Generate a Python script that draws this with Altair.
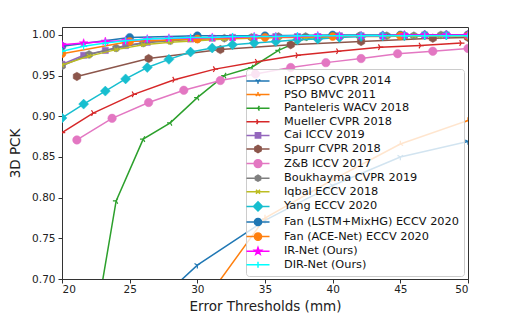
import math
import altair as alt
import pandas as pd

# ---------------- data ----------------
SERIES = ["ICPPSO CVPR 2014", "PSO BMVC 2011", "Panteleris WACV 2018", "Mueller CVPR 2018",
          "Cai ICCV 2019", "Spurr CVPR 2018", "Z&B ICCV 2017", "Boukhayma CVPR 2019",
          "Iqbal ECCV 2018", "Yang ECCV 2020", "Fan (LSTM+MixHG) ECCV 2020",
          "Fan (ACE-Net) ECCV 2020", "IR-Net (Ours)", "DIR-Net (Ours)"]

X_FINE = [20.0, 21.6, 23.2, 24.7, 26.3, 27.9, 29.5, 31.1, 32.6, 34.2,
          35.8, 37.4, 38.9, 40.5, 42.1, 43.7, 45.3, 46.8, 48.4, 50.0]
X_TWO = [20, 22, 24, 26, 28, 30, 32, 34, 36, 38, 40, 42, 44, 46, 48, 50]
X_FIVE = [20, 25, 30, 35, 40, 45, 50]
X_ZB = [21.1, 23.7, 26.4, 29.0, 31.7, 34.3, 36.9, 39.5, 42.1, 44.8, 47.4, 50.0]

icppso_x = [25, 30, 35, 40, 45, 50]
icppso_y = [0.640, 0.717, 0.772, 0.815, 0.850, 0.869]
pso_x = [30, 35, 40, 45, 50]
pso_y = [0.660, 0.775, 0.822, 0.866, 0.895]
panteleris_x = [22, 24, 26, 28, 30, 32, 34, 36, 38, 40, 42, 44, 46, 48, 50]
panteleris_y = [0.600, 0.796, 0.872, 0.892, 0.923, 0.950, 0.960, 0.981, 0.996, 0.998,
                0.999, 0.999, 0.999, 1.000, 1.000]
mueller_x = [20.0, 22.3, 25.3, 28.3, 31.3, 34.4, 37.4, 40.4, 43.5, 46.5, 49.5]
mueller_y = [0.880, 0.904, 0.927, 0.945, 0.958, 0.967, 0.975, 0.980, 0.985, 0.987, 0.990]
cai_y = [0.964, 0.975, 0.981, 0.987, 0.991, 0.994, 0.995, 0.996, 0.997, 0.997,
         0.998, 0.998, 0.998, 0.999, 0.999, 0.999, 0.999, 1.000, 1.000, 1.000]
spurr_x = [21.1, 26.4, 31.7, 36.9, 42.1, 47.4, 50.0]
spurr_y = [0.949, 0.971, 0.982, 0.988, 0.992, 0.996, 0.997]
zb_y = [0.871, 0.8975, 0.917, 0.932, 0.944, 0.952, 0.960, 0.966, 0.971, 0.977, 0.980, 0.9835]
boukhayma_y = [0.962, 0.976, 0.984, 0.990, 0.993, 0.995, 0.996, 0.997, 0.998, 0.998,
               0.999, 0.999, 0.999, 0.999, 1.000, 1.000]
iqbal_y = [0.963, 0.974, 0.982, 0.988, 0.991, 0.993, 0.995, 0.996, 0.997, 0.997,
           0.998, 0.998, 0.998, 0.999, 0.999, 0.999]
yang_y = [0.898, 0.915, 0.931, 0.946, 0.960, 0.970, 0.979, 0.984, 0.988, 0.990,
          0.992, 0.994, 0.995, 0.997, 0.998, 0.999, 0.999, 1.000, 1.000, 1.000]
fan_lstm_y = [0.986, 0.997, 0.999, 0.999, 1.000, 1.000, 1.000]
fan_ace_y = [0.977, 0.992, 0.995, 0.997, 0.998, 0.999, 0.999]
irnet_y = [0.988, 0.990, 0.992, 0.993, 0.995, 0.996, 0.996, 0.997, 0.997, 0.998,
           0.998, 0.998, 0.999, 0.999, 0.999, 0.999, 1.000, 1.000, 1.000, 1.000]
dirnet_y = [0.980, 0.986, 0.990, 0.993, 0.995, 0.996, 0.997, 0.997, 0.998, 0.998,
            0.998, 0.999, 0.999, 0.999, 0.999, 0.999, 0.999, 0.999, 0.999, 0.999]

X_TICKS = [20, 25, 30, 35, 40, 45, 50]
Y_TICKS = [0.70, 0.75, 0.80, 0.85, 0.90, 0.95, 1.00]

DATA = {
    "ICPPSO CVPR 2014": (icppso_x, icppso_y),
    "PSO BMVC 2011": (pso_x, pso_y),
    "Panteleris WACV 2018": (panteleris_x, panteleris_y),
    "Mueller CVPR 2018": (mueller_x, mueller_y),
    "Cai ICCV 2019": (X_FINE, cai_y),
    "Spurr CVPR 2018": (spurr_x, spurr_y),
    "Z&B ICCV 2017": (X_ZB, zb_y),
    "Boukhayma CVPR 2019": (X_TWO, boukhayma_y),
    "Iqbal ECCV 2018": (X_TWO, iqbal_y),
    "Yang ECCV 2020": (X_FINE, yang_y),
    "Fan (LSTM+MixHG) ECCV 2020": (X_FIVE, fan_lstm_y),
    "Fan (ACE-Net) ECCV 2020": (X_FIVE, fan_ace_y),
    "IR-Net (Ours)": (X_FINE, irnet_y),
    "DIR-Net (Ours)": (X_FINE, dirnet_y),
}

rows = []
for name in SERIES:
    xs, ys = DATA[name]
    for xv, yv in zip(xs, ys):
        rows.append({"series": name, "x": xv, "y": yv})
df = pd.DataFrame(rows)

# ---------------- styles ----------------
COLORS = ["#1f77b4", "#ff7f0e", "#2ca02c", "#d62728", "#9467bd", "#8c564b", "#e377c2",
          "#7f7f7f", "#bcbd22", "#17becf", "#1f77b4", "#ff7f0e", "#ff00ff", "#00ffff"]
MARKERS = ["tri_down", "tri_up", "tri_left", "tri_right", "square", "hexagon", "circle",
           "hexagon", "x", "diamond", "circle", "circle", "star", "plus"]
MSIZE = [42, 42, 42, 42, 60, 72, 72, 64, 30, 100, 64, 64, 80, 49]   # px^2 for plot markers
LSCALE = [0.45, 0.45, 0.45, 0.45, 0.55, 0.6, 0.65, 0.5, 0.45, 0.75, 0.6, 0.6, 0.6, 0.5]  # legend marker radius (units)

def f(v):
    return ("%.3f" % v).rstrip("0").rstrip(".")

def marker_path(kind, r):
    if kind == "circle":
        return "M%s,0A%s,%s 0 1,0 %s,0A%s,%s 0 1,0 %s,0Z" % (f(-r), f(r), f(r), f(r), f(r), f(r), f(-r))
    if kind == "square":
        a = r * 0.8
        return "M%s,%sL%s,%sL%s,%sL%s,%sZ" % (f(-a), f(-a), f(a), f(-a), f(a), f(a), f(-a), f(a))
    if kind == "diamond":
        return "M0,%sL%s,0L0,%sL%s,0Z" % (f(-r), f(r), f(r), f(-r))
    if kind == "hexagon":
        p = []
        for k in range(6):
            ang = math.radians(90 + 60 * k)
            p.append((r * math.cos(ang), -r * math.sin(ang)))
        return "M" + "L".join("%s,%s" % (f(a), f(b)) for a, b in p) + "Z"
    if kind == "star":
        p = []
        for k in range(10):
            rr = r if k % 2 == 0 else r * 0.4
            ang = math.radians(90 + 36 * k)
            p.append((rr * math.cos(ang), -rr * math.sin(ang)))
        return "M" + "L".join("%s,%s" % (f(a), f(b)) for a, b in p) + "Z"
    if kind == "x":
        a = r * 0.75
        return "M%s,%sL%s,%sM%s,%sL%s,%s" % (f(-a), f(-a), f(a), f(a), f(-a), f(a), f(a), f(-a))
    if kind == "plus":
        return "M%s,0L%s,0M0,%sL0,%s" % (f(-r), f(r), f(-r), f(r))
    arms = {
        "tri_down": [(0, 1), (-0.866, -0.5), (0.866, -0.5)],
        "tri_up": [(0, -1), (-0.866, 0.5), (0.866, 0.5)],
        "tri_left": [(-1, 0), (0.5, -0.866), (0.5, 0.866)],
        "tri_right": [(1, 0), (-0.5, -0.866), (-0.5, 0.866)],
    }[kind]
    return "".join("M0,0L%s,%s" % (f(a * r), f(b * r)) for a, b in arms)

LINE_HALF = 1.92
legend_paths = ["M%s,0L%s,0" % (f(-LINE_HALF), f(LINE_HALF)) + marker_path(m, s)
                for m, s in zip(MARKERS, LSCALE)]

FONT = "DejaVu Sans"
stroke_scale = alt.Scale(domain=SERIES, range=COLORS)
fill_scale = alt.Scale(domain=SERIES, range=COLORS)

X = alt.X("x:Q", scale=alt.Scale(domain=[20, 50], nice=False, zero=False),
          axis=alt.Axis(values=X_TICKS, format="d", title="Error Thresholds (mm)",
                        grid=False, tickSize=4, labelFontSize=10.5, titleFontSize=13.5,
                        labelPadding=1, titleY=31, titleBaseline="alphabetic"))
Y = alt.Y("y:Q", scale=alt.Scale(domain=[0.70, 1.0098], nice=False, zero=False),
          axis=alt.Axis(values=Y_TICKS, format=".2f", title="3D PCK",
                        grid=False, tickSize=4, labelFontSize=10.5, titleFontSize=13.5,
                        labelPadding=3, titlePadding=9))

leg = alt.Legend(orient="none", legendX=184, legendY=42, title=None,
                 symbolSize=144, symbolStrokeWidth=1.5, symbolOffset=0,
                 labelFontSize=11.3, labelFont=FONT, labelColor="#111111", labelOffset=19,
                 labelLimit=400, fillColor="rgba(255,255,255,0.8)", strokeColor="#cccccc",
                 cornerRadius=3, padding=5, rowPadding=0.6)

legend_layer = alt.Chart(df).transform_filter("false").mark_point(
    filled=True, opacity=1, strokeWidth=1.5).encode(
    x=X, y=Y,
    fill=alt.Fill("series:N", scale=fill_scale, legend=leg),
    stroke=alt.Stroke("series:N", scale=stroke_scale, legend=leg),
    shape=alt.Shape("series:N", scale=alt.Scale(domain=SERIES, range=legend_paths), legend=leg))

layers = [legend_layer]
for i, name in enumerate(SERIES):
    sub = alt.Chart(df).transform_filter(alt.datum.series == name)
    layers.append(sub.mark_line(strokeWidth=1.5, clip=True).encode(
        x=X, y=Y, stroke=alt.Stroke("series:N", scale=stroke_scale)))
    open_shape = MARKERS[i] in ("tri_down", "tri_up", "tri_left", "tri_right", "x", "plus")
    layers.append(sub.mark_point(filled=True, opacity=1, clip=True,
                                 strokeWidth=1.2 if open_shape else 0.5,
                                 shape=marker_path(MARKERS[i], 1.0), size=MSIZE[i]).encode(
        x=X, y=Y,
        fill=alt.Fill("series:N", scale=fill_scale),
        stroke=alt.Stroke("series:N", scale=stroke_scale)))

chart = alt.layer(*layers).properties(
    width=406, height=252,
    autosize=alt.AutoSizeParams(type="none"),
    padding={"left": 54, "top": 19, "right": 34, "bottom": 35},
    background="white",
).configure_view(stroke="#333333", strokeWidth=1).configure_axis(
    labelFont=FONT, titleFont=FONT, titleFontWeight="normal", labelColor="#222222",
    titleColor="#222222", tickColor="#333333", domainColor="#333333", domainWidth=1,
    tickWidth=1)

chart.save("out.html", embed_options={"renderer": "svg", "actions": False})
